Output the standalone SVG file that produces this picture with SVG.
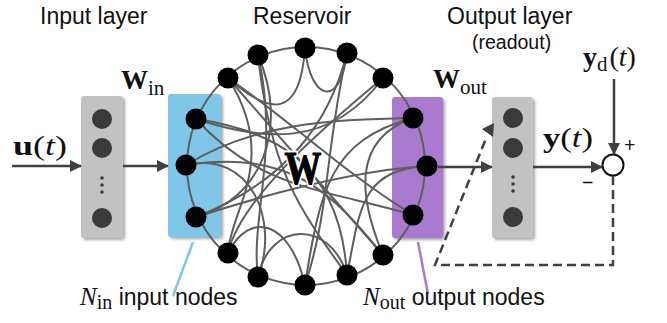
<svg xmlns="http://www.w3.org/2000/svg" width="667" height="323" viewBox="0 0 667 323">
  <defs>
    <marker id="arrow" viewBox="0 0 12 12" refX="11" refY="6" markerWidth="12" markerHeight="12" markerUnits="userSpaceOnUse" orient="auto">
      <path d="M0,0 L12,6 L0,12 Z" fill="#404040"/>
    </marker>
    <filter id="shadow" x="-20%" y="-10%" width="150%" height="130%">
      <feGaussianBlur in="SourceAlpha" stdDeviation="1.5"/>
      <feOffset dx="2" dy="2"/>
      <feComponentTransfer><feFuncA type="linear" slope="0.35"/></feComponentTransfer>
      <feMerge><feMergeNode/><feMergeNode in="SourceGraphic"/></feMerge>
    </filter>
  </defs>
  <style>
    .title { font-family: "Liberation Sans", Arial, sans-serif; font-size: 23px; fill: #111; }
    .small { font-family: "Liberation Sans", Arial, sans-serif; font-size: 19.5px; fill: #111; }
    .label { font-family: "Liberation Sans", Arial, sans-serif; font-size: 23px; fill: #111; }
    .math { font-family: "Liberation Serif", "DejaVu Serif", serif; fill: #111; }
    .bold { font-weight: bold; }
    .it { font-style: italic; }
    .layer { fill: #c2c2c2; filter: url(#shadow); }
    .unit { fill: #3a3a3a; }
    .link { fill: none; stroke: #5e5e5e; stroke-width: 2; }
    .node { fill: #000; }
    .flow { fill: none; stroke: #404040; stroke-width: 2.5; }
    .dash { fill: none; stroke: #404040; stroke-width: 2.5; stroke-dasharray: 9 5; }
    .bigw { font-family: "Liberation Serif", "DejaVu Serif", serif; font-weight: bold; font-size: 46px; }
  </style>

  <!-- headings -->
  <text class="title" x="40" y="24">Input layer</text>
  <text class="title" x="253" y="24">Reservoir</text>
  <text class="title" x="447" y="24">Output layer</text>
  <text class="small" x="472" y="49">(readout)</text>

  <!-- input layer -->
  <g id="input-layer">
    <rect class="layer" x="81" y="96" width="42" height="142" rx="3"/>
    <circle class="unit" cx="102" cy="119" r="10"/>
    <circle class="unit" cx="102" cy="148" r="10"/>
    <circle class="unit" cx="102" cy="178" r="1.8"/>
    <circle class="unit" cx="102" cy="185" r="1.8"/>
    <circle class="unit" cx="102" cy="192" r="1.8"/>
    <circle class="unit" cx="102" cy="218" r="10"/>
  </g>

  <!-- input / output node panels -->
  <g id="input-panel">
    <rect x="168" y="94" width="53" height="143" rx="3" fill="#7fc6e9" filter="url(#shadow)"/>
  </g>
  <g id="output-panel">
    <rect x="392" y="97" width="51" height="141" rx="3" fill="#a97acf" filter="url(#shadow)"/>
  </g>

  <!-- output layer -->
  <g id="output-layer">
    <rect class="layer" x="492" y="97" width="41" height="141" rx="3"/>
    <circle class="unit" cx="513" cy="118" r="10"/>
    <circle class="unit" cx="513" cy="148" r="10"/>
    <circle class="unit" cx="513" cy="177" r="1.8"/>
    <circle class="unit" cx="513" cy="184" r="1.8"/>
    <circle class="unit" cx="513" cy="191" r="1.8"/>
    <circle class="unit" cx="513" cy="217" r="10"/>
  </g>

  <!-- reservoir internal links -->
  <g id="reservoir-links">
    <circle class="link" cx="306" cy="166" r="119"/>
    <path class="link" d="M196,119 C260,140 330,150 383,78"/>
    <path class="link" d="M196,119 C270,130 340,160 347,275"/>
    <path class="link" d="M186,165 C260,120 340,120 413,118"/>
    <path class="link" d="M186,165 C250,150 280,220 258,277"/>
    <path class="link" d="M186,165 C290,150 330,190 383,255"/>
    <path class="link" d="M196,217 C280,190 360,170 427,166"/>
    <path class="link" d="M196,217 C260,200 290,130 258,55"/>
    <path class="link" d="M196,217 C290,180 330,120 347,53"/>
    <path class="link" d="M228,78 L383,255"/>
    <path class="link" d="M228,78 C280,160 230,210 228,253"/>
    <path class="link" d="M258,55 C280,150 250,220 258,277"/>
    <path class="link" d="M258,55 C270,170 300,210 347,275"/>
    <path class="link" d="M305,48 C300,120 270,115 228,78"/>
    <path class="link" d="M305,48 C310,100 340,110 347,53"/>
    <path class="link" d="M347,53 C325,150 330,210 305,285"/>
    <path class="link" d="M383,78 C320,130 240,200 228,253"/>
    <path class="link" d="M413,118 C330,140 320,190 305,285"/>
    <path class="link" d="M413,215 C330,190 260,190 196,119"/>
    <path class="link" d="M413,215 C340,170 290,120 228,78"/>
    <path class="link" d="M427,166 C360,170 360,210 347,275"/>
    <path class="link" d="M413,118 C350,140 360,200 383,255"/>
    <path class="link" d="M228,253 C250,210 290,220 305,285"/>
    <path class="link" d="M258,277 C270,220 330,220 347,275"/>
  </g>

  <!-- reservoir nodes -->
  <g id="reservoir-nodes">
    <circle class="node" cx="305" cy="48" r="10.5"/>
    <circle class="node" cx="258" cy="55" r="10.5"/>
    <circle class="node" cx="228" cy="78" r="10.5"/>
    <circle class="node" cx="347" cy="53" r="10.5"/>
    <circle class="node" cx="383" cy="78" r="10.5"/>
    <circle class="node" cx="383" cy="255" r="10.5"/>
    <circle class="node" cx="347" cy="275" r="10.5"/>
    <circle class="node" cx="305" cy="285" r="10.5"/>
    <circle class="node" cx="258" cy="277" r="10.5"/>
    <circle class="node" cx="228" cy="253" r="10.5"/>
  </g>
  <g id="input-nodes">
    <circle class="node" cx="196" cy="119" r="10.5"/>
    <circle class="node" cx="186" cy="165" r="10.5"/>
    <circle class="node" cx="196" cy="217" r="10.5"/>
  </g>
  <g id="output-nodes">
    <circle class="node" cx="413" cy="118" r="10.5"/>
    <circle class="node" cx="427" cy="166" r="10.5"/>
    <circle class="node" cx="413" cy="215" r="10.5"/>
  </g>

  <!-- weight matrix label: white halo underneath, then the glyph -->
  <g transform="translate(303,184) scale(0.8,1)">
    <text class="bigw" x="0" y="0" text-anchor="middle" style="fill:#fff;stroke:#fff;stroke-width:5px;stroke-linejoin:round">W</text>
    <text class="bigw" x="0" y="0" text-anchor="middle" style="fill:#000;stroke:#000;stroke-width:1.2px">W</text>
  </g>

  <!-- summing junction -->
  <g id="sum">
    <circle cx="613" cy="165" r="10.5" fill="#fff" stroke="#111" stroke-width="2"/>
    <text class="small" x="624" y="152">+</text>
    <text class="small" x="582" y="189">−</text>
  </g>

  <!-- connectors -->
  <g id="connectors">
    <path class="flow" d="M12,166 L81,166" marker-end="url(#arrow)"/>
    <path class="flow" d="M123,166 L168,166" marker-end="url(#arrow)"/>
    <path class="flow" d="M438,167 L492,167" marker-end="url(#arrow)"/>
    <path class="flow" d="M533,167 L602,167" marker-end="url(#arrow)"/>
    <path class="flow" d="M614,79 L614,154" marker-end="url(#arrow)"/>
    <path class="dash" d="M613,176 L613,265 L435,265 L487,136"/>
    <path d="M482,129 L494,123 L493,137 Z" fill="#404040"/>
    <path d="M193,242 L173,296" stroke="#7fc6e9" stroke-width="2.5" fill="none"/>
    <path d="M418,242 L428,294" stroke="#a97acf" stroke-width="2.5" fill="none"/>
  </g>

  <!-- signal and weight labels -->
  <text class="math" x="13" y="155" font-size="28" textLength="54" lengthAdjust="spacingAndGlyphs"><tspan class="bold">u</tspan>(<tspan class="it">t</tspan>)</text>
  <text class="math" x="121" y="89"><tspan class="bold" font-size="27">W</tspan><tspan font-size="21" dy="6">in</tspan></text>
  <text class="math" x="433" y="88"><tspan class="bold" font-size="27">W</tspan><tspan font-size="21" dy="6">out</tspan></text>
  <text class="math" x="543" y="147" font-size="28" textLength="50" lengthAdjust="spacingAndGlyphs"><tspan class="bold">y</tspan>(<tspan class="it">t</tspan>)</text>
  <text class="math" x="583" y="66" font-size="28"><tspan class="bold">y</tspan><tspan font-size="21" dy="5">d</tspan><tspan dy="-5" dx="2">(</tspan><tspan class="it">t</tspan>)</text>

  <!-- node group captions -->
  <text class="label" x="80" y="305"><tspan class="math it" font-size="25">N</tspan><tspan class="math" font-size="20" dy="4">in</tspan><tspan dy="-4"> input nodes</tspan></text>
  <text class="label" x="363" y="305"><tspan class="math it" font-size="25">N</tspan><tspan class="math" font-size="20" dy="4">out</tspan><tspan dy="-4"> output nodes</tspan></text>
</svg>
